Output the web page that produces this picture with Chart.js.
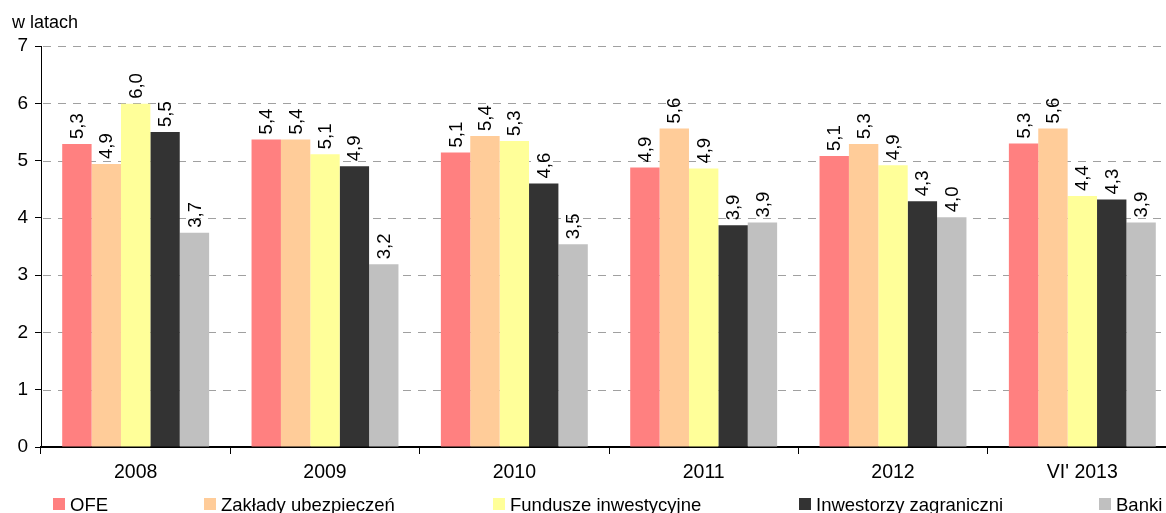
<!DOCTYPE html>
<html>
<head>
<meta charset="utf-8">
<script src="https://cdn.jsdelivr.net/npm/chart.js@4.4.1/dist/chart.umd.min.js"></script>
<style>
  html, body { margin: 0; padding: 0; background: #fff; overflow: hidden; width: 1166px; height: 513px; }
  #wrap { position: absolute; left: 0; top: 0; width: 1200px; height: 513px; }
</style>
</head>
<body>
<div id="wrap"><canvas id="c" width="1200" height="513"></canvas></div>
<script>
const categories = ["2008", "2009", "2010", "2011", "2012", "VI' 2013"];
const seriesNames = ["OFE", "Zakłady ubezpieczeń", "Fundusze inwestycyjne", "Inwestorzy zagraniczni", "Banki"];
const ofe        = [5.29, 5.37, 5.14, 4.88, 5.08, 5.30];
const zaklady    = [4.94, 5.37, 5.43, 5.56, 5.29, 5.56];
const fundusze   = [5.99, 5.11, 5.34, 4.86, 4.92, 4.38];
const inwestorzy = [5.50, 4.90, 4.60, 3.87, 4.29, 4.32];
const banki      = [3.74, 3.19, 3.54, 3.92, 4.01, 3.92];
const yTicks = [0, 1, 2, 3, 4, 5, 6, 7];
const yTitle = "w latach";

const colors = ["#FF8080", "#FFCC99", "#FFFF99", "#333333", "#C0C0C0"];
const legendX = [53, 204, 493, 799, 1099];
const FONT = "'Liberation Sans', Arial, sans-serif";

const fmt = v => v.toFixed(1).replace('.', ',');

const labelPlugin = {
  id: 'barLabels',
  beforeDatasetsDraw(chart) {
    const ctx = chart.ctx;
    const ys = chart.scales.y;
    const area = chart.chartArea;
    ctx.save();
    ctx.strokeStyle = '#A0A0A0';
    ctx.lineWidth = 1;
    ctx.setLineDash([8, 7]);
    yTicks.forEach(v => {
      if (v === 0) return;
      const y = Math.round(ys.getPixelForValue(v)) + 0.5;
      ctx.beginPath();
      ctx.moveTo(area.left + 2, y);
      ctx.lineTo(area.right, y);
      ctx.stroke();
    });
    ctx.restore();
  },
  afterDatasetsDraw(chart) {
    const ctx = chart.ctx;
    ctx.save();
    ctx.fillStyle = '#000';
    ctx.font = `18.5px ${FONT}`;
    ctx.textAlign = 'left';
    ctx.textBaseline = 'middle';
    chart.data.datasets.forEach((ds, i) => {
      const meta = chart.getDatasetMeta(i);
      meta.data.forEach((el, j) => {
        ctx.save();
        ctx.translate(el.x, el.y - 5);
        ctx.rotate(-Math.PI / 2);
        ctx.fillText(fmt(ds.data[j]), 0, 1);
        ctx.restore();
      });
    });
    ctx.restore();
  },
  afterDraw(chart) {
    const ctx = chart.ctx;
    ctx.save();
    ctx.fillStyle = '#000';
    ctx.font = `18px ${FONT}`;
    ctx.textAlign = 'left';
    ctx.textBaseline = 'alphabetic';
    ctx.fillText(yTitle, 12, 28);
    ctx.font = `18.5px ${FONT}`;
    chart.data.datasets.forEach((ds, i) => {
      const x = legendX[i];
      ctx.fillStyle = ds.backgroundColor;
      ctx.fillRect(x, 498, 12, 12);
      ctx.fillStyle = '#000';
      ctx.fillText(ds.label, x + 17, 511);
    });
    ctx.restore();
  }
};

const datasets = [ofe, zaklady, fundusze, inwestorzy, banki].map((d, i) => ({
  label: seriesNames[i],
  data: d,
  backgroundColor: colors[i],
  borderWidth: 0,
  barPercentage: 1.0,
  categoryPercentage: 0.776
}));

new Chart(document.getElementById('c'), {
  type: 'bar',
  data: { labels: categories, datasets },
  options: {
    responsive: false,
    animation: false,
    devicePixelRatio: 1,
    layout: { padding: { top: 46, right: 23, bottom: 0, left: 0 } },
    plugins: { legend: { display: false }, tooltip: { enabled: false } },
    scales: {
      x: {
        offset: true,
        grid: { display: true, offset: true, drawOnChartArea: false, drawTicks: true, tickLength: 7, color: '#000', lineWidth: 1 },
        border: { display: true, color: '#000', width: 2 },
        ticks: { color: '#000', font: { family: FONT, size: 19.5 }, padding: 7, maxRotation: 0, autoSkip: false },
        afterFit(s) { s.height = 66; }
      },
      y: {
        min: 0, max: 7,
        afterBuildTicks(s) { s.ticks = yTicks.map(v => ({ value: v })); },
        grid: { drawOnChartArea: false, drawTicks: true, tickLength: 6, color: '#000', lineWidth: 1 },
        border: { display: true, color: '#000', width: 1 },
        ticks: { color: '#000', font: { family: FONT, size: 19 }, padding: 7, stepSize: 1 },
        afterFit(s) { s.width = 41; }
      }
    }
  },
  plugins: [labelPlugin]
});
</script>
</body>
</html>
